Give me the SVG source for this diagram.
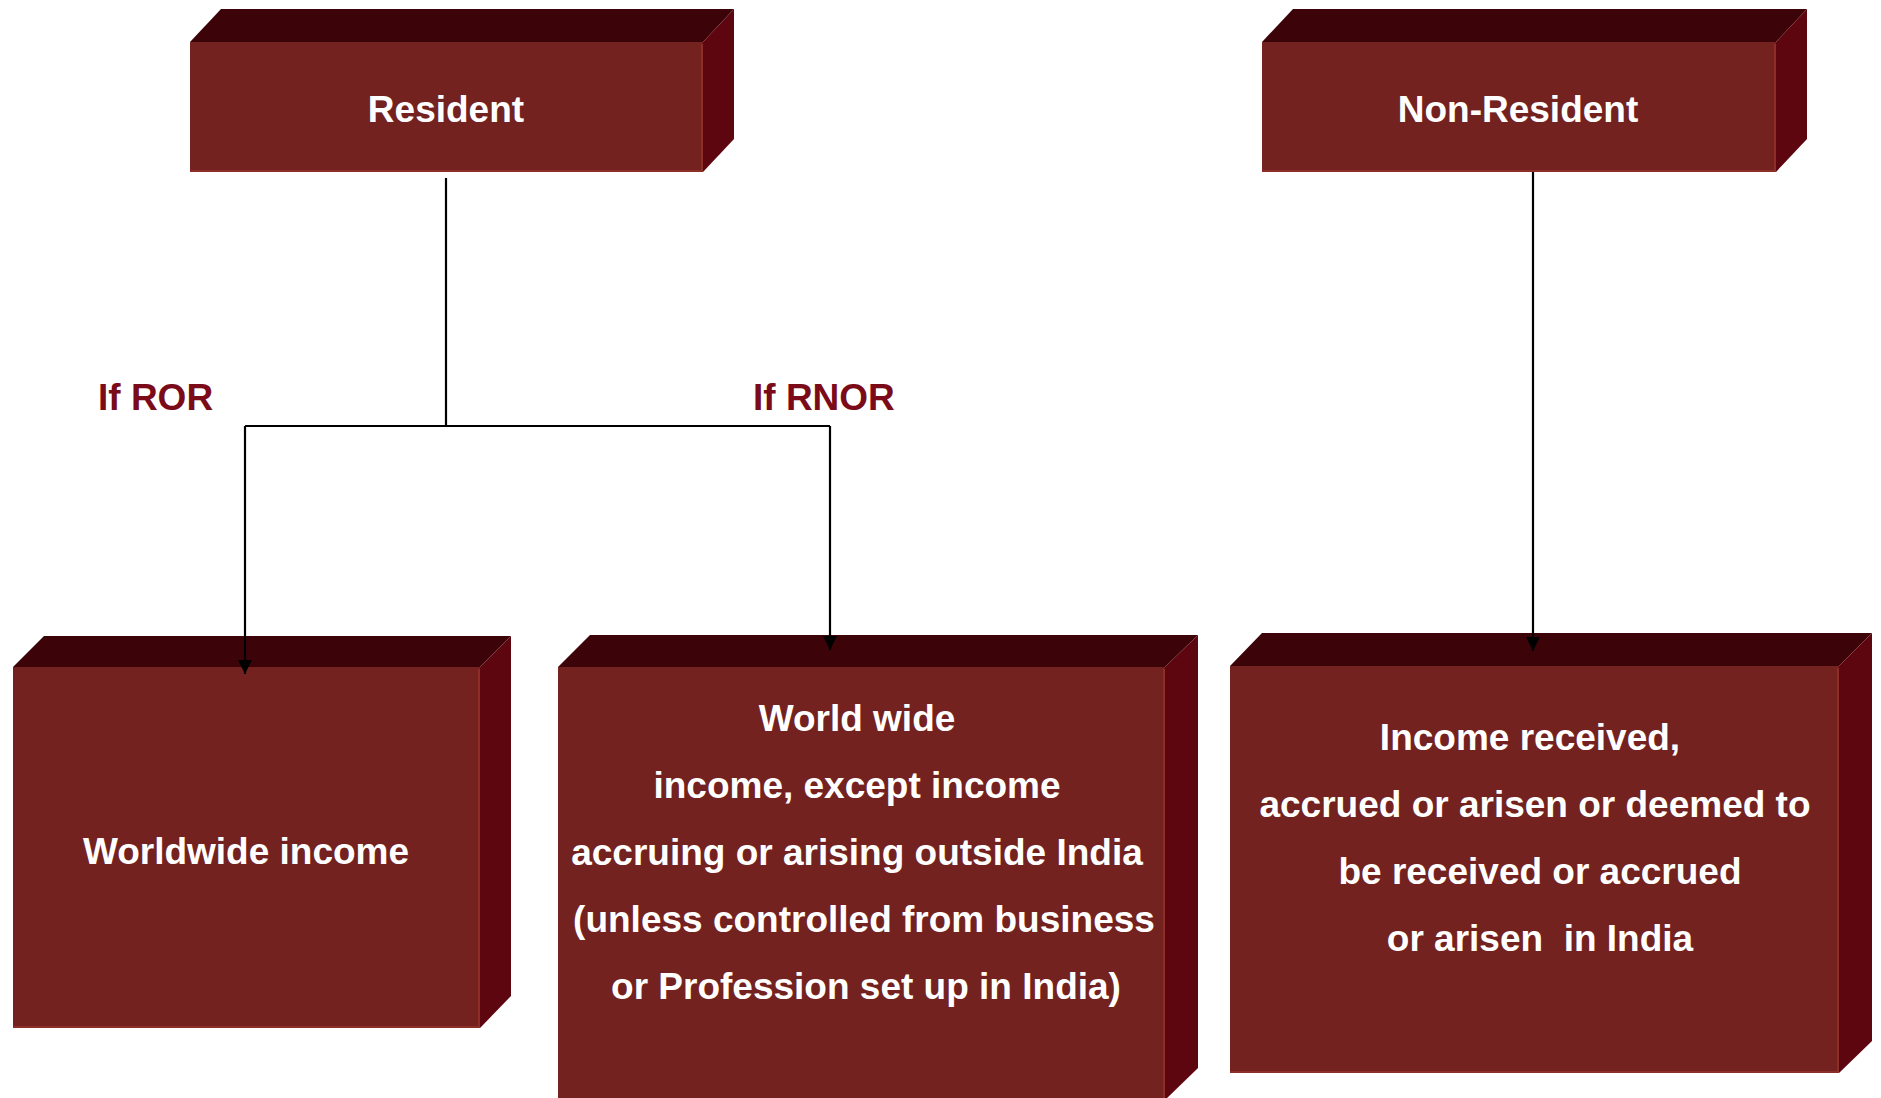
<svg xmlns="http://www.w3.org/2000/svg" width="1881" height="1098" viewBox="0 0 1881 1098">
  <style>
    .front { fill: #74221f; }
    .top { fill: #3c0409; }
    .side { fill: #5e0610; }
    .edge { stroke: #8e2e29; stroke-width: 2; fill: none; }
    .label { font-family: "Liberation Sans", Arial, sans-serif; font-weight: bold; font-size: 37px; fill: #ffffff; text-anchor: middle; white-space: pre; }
    .cond { font-family: "Liberation Sans", Arial, sans-serif; font-weight: bold; font-size: 37px; fill: #7b0b18; }
    .wire { stroke: #000000; stroke-width: 2.2; fill: none; }
  </style>
  <defs>
    <marker id="arrow" markerUnits="userSpaceOnUse" viewBox="0 0 14 14" refX="14" refY="7" markerWidth="14" markerHeight="14" orient="auto">
      <path d="M0,0 L14,7 L0,14 z" fill="#000000"/>
    </marker>
  </defs>
  <rect width="1881" height="1098" fill="#ffffff"/>

  <!-- Resident -->
  <g id="resident">
    <polygon class="top" points="190,42 221,9 734,9 703,42"/>
    <polygon class="side" points="703,42 734,9 734,139 703,172"/>
    <rect class="front" x="190" y="42" width="513" height="130"/>
    <polyline class="edge" points="702,44 702,171 190,171"/>
    <text class="label" x="446" y="122">Resident</text>
  </g>

  <!-- Non-Resident -->
  <g id="non-resident">
    <polygon class="top" points="1262,42 1293,9 1807,9 1776,42"/>
    <polygon class="side" points="1776,42 1807,9 1807,139 1776,172"/>
    <rect class="front" x="1262" y="42" width="514" height="130"/>
    <polyline class="edge" points="1775,44 1775,171 1262,171"/>
    <text class="label" x="1518" y="122">Non-Resident</text>
  </g>

  <!-- Worldwide income (ROR) -->
  <g id="ror-income">
    <polygon class="top" points="13,667 44,636 511,636 480,667"/>
    <polygon class="side" points="480,667 511,636 511,996 480,1028"/>
    <rect class="front" x="13" y="667" width="467" height="361"/>
    <polyline class="edge" points="479,669 479,1027 13,1027"/>
    <text class="label" x="246" y="864">Worldwide income</text>
  </g>

  <!-- RNOR income -->
  <g id="rnor-income">
    <polygon class="top" points="558,667 590,635 1198,635 1165,667"/>
    <polygon class="side" points="1165,667 1198,635 1198,1068 1165,1100"/>
    <rect class="front" x="558" y="667" width="607" height="433"/>
    <polyline class="edge" points="1164,669 1164,1100"/>
    <text class="label" x="857" y="731">World wide</text>
    <text class="label" x="857" y="798">income, except income</text>
    <text class="label" x="857" y="865">accruing or arising outside India</text>
    <text class="label" x="864" y="932">(unless controlled from business</text>
    <text class="label" x="866" y="999">or Profession set up in India)</text>
  </g>

  <!-- Non-resident income -->
  <g id="nr-income">
    <polygon class="top" points="1230,666 1262,633 1872,633 1839,666"/>
    <polygon class="side" points="1839,666 1872,633 1872,1041 1839,1073"/>
    <rect class="front" x="1230" y="666" width="609" height="407"/>
    <polyline class="edge" points="1838,668 1838,1072 1230,1072"/>
    <text class="label" x="1530" y="750">Income received,</text>
    <text class="label" x="1535" y="817">accrued or arisen or deemed to</text>
    <text class="label" x="1540" y="884">be received or accrued</text>
    <text class="label" x="1540" y="951" xml:space="preserve">or arisen  in India</text>
  </g>

  <!-- Condition labels -->
  <text class="cond" x="98" y="410">If ROR</text>
  <text class="cond" x="753" y="410">If RNOR</text>

  <!-- Connectors -->
  <g id="connectors">
    <path class="wire" d="M446,178 V426 M245,426 H830"/>
    <path class="wire" d="M245,426 V674" marker-end="url(#arrow)"/>
    <path class="wire" d="M830,426 V650" marker-end="url(#arrow)"/>
    <path class="wire" d="M1533,172 V651" marker-end="url(#arrow)"/>
  </g>
</svg>
